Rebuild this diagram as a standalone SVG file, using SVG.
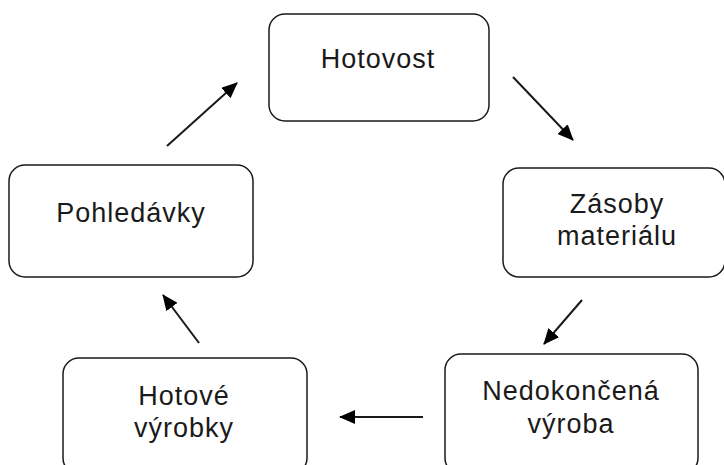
<svg xmlns="http://www.w3.org/2000/svg" width="724" height="465" viewBox="0 0 724 465">
<style>
.box{fill:#fff;stroke:#1a1a1a;stroke-width:1.5}
.t{font-family:"Liberation Sans",Arial,sans-serif;font-size:27px;letter-spacing:1px;fill:#1a1a1a;text-anchor:middle}
.c{stroke:#1a1a1a;stroke-width:2;fill:none;marker-end:url(#ah)}
</style>
<defs>
<marker id="ah" markerUnits="userSpaceOnUse" markerWidth="16" markerHeight="14" refX="15" refY="7" orient="auto">
<path d="M0,0 L16,7 L0,14 Z" fill="#000"/>
</marker>
</defs>
<rect width="724" height="465" fill="#fff"/>
<g id="hotovost"><rect class="box" x="269" y="14" width="220" height="107" rx="16"/><text class="t" x="378" y="68">Hotovost</text></g>
<g id="zasoby"><rect class="box" x="503" y="168" width="222" height="109" rx="16"/><text class="t" x="617" y="213">Zásoby</text><text class="t" x="617" y="245">materiálu</text></g>
<g id="nedokoncena"><rect class="box" x="445" y="354" width="253" height="120" rx="16"/><text class="t" x="571" y="400">Nedokončená</text><text class="t" x="571" y="433">výroba</text></g>
<g id="hotove"><rect class="box" x="63" y="358" width="244" height="116" rx="16"/><text class="t" x="184" y="405">Hotové</text><text class="t" x="184" y="437">výrobky</text></g>
<g id="pohledavky"><rect class="box" x="9" y="165" width="244" height="112" rx="16"/><text class="t" x="131" y="222">Pohledávky</text></g>
<g id="connectors">
<line class="c" x1="167" y1="146" x2="237" y2="83"/>
<line class="c" x1="513" y1="77" x2="573" y2="140"/>
<line class="c" x1="582" y1="300" x2="544" y2="344"/>
<line class="c" x1="423" y1="417" x2="340" y2="417"/>
<line class="c" x1="199" y1="343" x2="163" y2="295"/>
</g>
</svg>
